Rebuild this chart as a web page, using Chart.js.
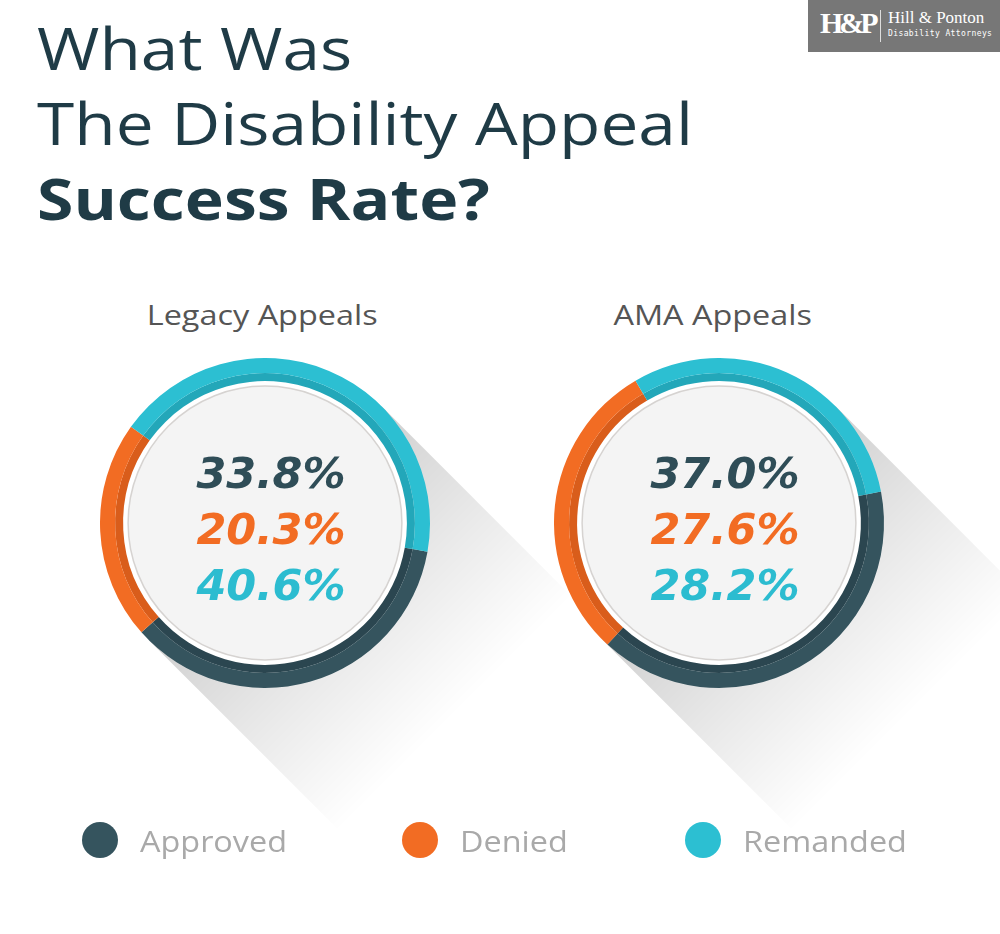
<!DOCTYPE html>
<html>
<head>
<meta charset="utf-8">
<script src="https://cdn.jsdelivr.net/npm/chart.js@4.4.1/dist/chart.umd.min.js"></script>
<style>
  body { margin: 0; width: 1000px; height: 934px; background: #fff; position: relative; overflow: hidden; font-family: "Open Sans", sans-serif; }
  .title { position: absolute; left: 37px; color: #1f3b46; font-size: 58px; line-height: 1; white-space: nowrap; transform: scaleX(1.165); transform-origin: left top; }
  .logo { position: absolute; left: 808px; top: 0; width: 192px; height: 52px; background: #777; color: #fff; white-space: nowrap; }
  .logo .hp { position: absolute; left: 12px; top: 8px; font-family: "Liberation Serif", serif; font-weight: bold; font-size: 30px; letter-spacing: -4px; line-height: 1; }
  .logo .bar { position: absolute; left: 72px; top: 10px; width: 1px; height: 32px; background: #ddd; }
  .logo .name { position: absolute; left: 80px; top: 9px; font-family: "Liberation Serif", serif; font-size: 17px; line-height: 1; }
  .logo .sub { position: absolute; left: 80px; top: 30px; font-family: "DejaVu Sans Mono", monospace; font-size: 8px; letter-spacing: 0.4px; line-height: 1; }
  .sub-title { position: absolute; top: 296px; width: 400px; text-align: center; font-size: 27px; color: #555; font-weight: 500; }
  .sub-title span { display: inline-block; transform: scaleX(1.2); }
  canvas { position: absolute; }
  #legend { position: absolute; left: 0; top: 818px; width: 1000px; height: 44px; }
  .item { position: absolute; top: 0; height: 44px; display: flex; align-items: center; white-space: nowrap; }
  .dot { width: 36px; height: 36px; border-radius: 50%; margin-right: 22px; }
  .item span { font-size: 30px; color: #a9a9a9; display: inline-block; transform: scaleX(1.08); transform-origin: left center; }
</style>
</head>
<body>
<div class="title" style="top:19px;">What Was</div>
<div class="title" style="top:94px;">The Disability Appeal</div>
<div class="title" style="top:169px;font-weight:700;transform:scaleX(1.14);">Success Rate?</div>

<div class="logo">
  <div class="hp">H&amp;P</div>
  <div class="bar"></div>
  <div class="name">Hill &amp; Ponton</div>
  <div class="sub">Disability Attorneys</div>
</div>

<div class="sub-title" style="left:62px;"><span id="t0"></span></div>
<div class="sub-title" style="left:513px;"><span id="t1"></span></div>

<canvas id="legacy" width="490" height="470" style="left:100px;top:358px;width:490px;height:470px;"></canvas>
<canvas id="ama" width="450" height="470" style="left:554px;top:358px;width:450px;height:470px;"></canvas>

<div id="legend"></div>

<script>
const categories = ["Approved", "Denied", "Remanded"];
const legacyValues = [33.8, 20.3, 40.6];
const amaValues = [37.0, 27.6, 28.2];
const chartTitles = ["Legacy Appeals", "AMA Appeals"];

const ringColors = ["#35545e", "#f26c23", "#2cbfd2"];
const ringShades = ["#2b4650", "#d95d1b", "#23a7b9"];
const textColors = ["#2f4d57", "#f26c23", "#2cbcd0"];

document.getElementById("t0").textContent = chartTitles[0];
document.getElementById("t1").textContent = chartTitles[1];

// legend
const legendX = [82, 402, 685];
const legend = document.getElementById("legend");
categories.forEach((c, i) => {
    const item = document.createElement("div");
    item.className = "item";
    item.style.left = legendX[i] + "px";
    item.innerHTML = '<div class="dot" style="background:' + ringColors[i] + '"></div><span>' + c + '</span>';
    legend.appendChild(item);
});

// long shadow + inner disc + center numbers
const ringDecor = {
    id: "ringDecor",
    beforeDatasetsDraw(chart) {
        const arc = chart.getDatasetMeta(0).data[0];
        const inner = chart.getDatasetMeta(1).data[0];
        if (!arc || !inner) return;
        const ctx = chart.ctx;
        const cx = arc.x, cy = arc.y, R = arc.outerRadius;
        const d = R / Math.SQRT2;
        const L = 270;
        ctx.save();
        const g = ctx.createLinearGradient(cx, cy, cx + L / Math.SQRT2, cy + L / Math.SQRT2);
        g.addColorStop(0, "rgba(0,0,0,0.19)");
        g.addColorStop(0.5, "rgba(0,0,0,0.09)");
        g.addColorStop(1, "rgba(0,0,0,0)");
        ctx.fillStyle = g;
        ctx.beginPath();
        ctx.moveTo(cx + d, cy - d);
        ctx.lineTo(cx + d + L, cy - d + L);
        ctx.lineTo(cx - d + L, cy + d + L);
        ctx.lineTo(cx - d, cy + d);
        ctx.closePath();
        ctx.fill();

        const ir = inner.innerRadius;
        ctx.beginPath();
        ctx.arc(cx, cy, ir + 1, 0, Math.PI * 2);
        ctx.fillStyle = "#ffffff";
        ctx.fill();
        ctx.beginPath();
        ctx.arc(cx, cy, ir - 5, 0, Math.PI * 2);
        ctx.fillStyle = "#f4f4f4";
        ctx.fill();
        ctx.lineWidth = 1.5;
        ctx.strokeStyle = "#d6d3d1";
        ctx.stroke();
        ctx.restore();
    },
    afterDatasetsDraw(chart) {
        const arc = chart.getDatasetMeta(0).data[0];
        if (!arc) return;
        const ctx = chart.ctx;
        const vals = chart.data.datasets[0].data;
        ctx.save();
        ctx.font = "italic bold 43px 'DejaVu Sans'";
        ctx.textAlign = "center";
        ctx.textBaseline = "middle";
        vals.forEach((v, i) => {
            ctx.fillStyle = textColors[i];
            ctx.fillText(v.toFixed(1) + "%", arc.x + 6, arc.y - 46 + i * 56);
        });
        ctx.restore();
    }
};

function makeRing(id, values, rotation, padRight) {
    const ctx = document.getElementById(id).getContext("2d");
    return new Chart(ctx, {
        type: "doughnut",
        data: {
            labels: categories,
            datasets: [
                { data: values, backgroundColor: ringColors, borderWidth: 0, weight: 15 },
                { data: values, backgroundColor: ringShades, borderWidth: 0, weight: 8 }
            ]
        },
        options: {
            responsive: false,
            animation: false,
            rotation: rotation,
            cutout: "86%",
            layout: { padding: { left: 0, top: 0, right: padRight, bottom: 140 } },
            plugins: {
                legend: { display: false },
                tooltip: { enabled: false }
            }
        },
        plugins: [ringDecor]
    });
}

makeRing("legacy", legacyValues, 100, 160);
makeRing("ama", amaValues, 79, 120);
</script>
</body>
</html>
